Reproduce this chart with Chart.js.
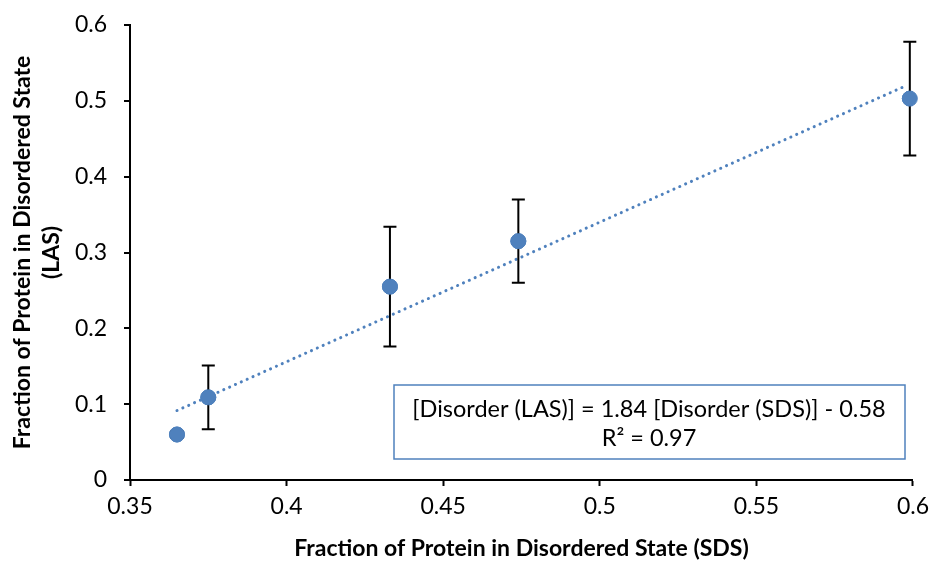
<!DOCTYPE html>
<html>
<head>
<meta charset="utf-8">
<script src="https://cdn.jsdelivr.net/npm/chart.js@4.4.1/dist/chart.umd.min.js"></script>
<style>
  html, body { margin: 0; padding: 0; background: #fff; }
  #wrap { width: 936px; height: 562px; }
</style>
</head>
<body>
<div id="wrap"><canvas id="chart" width="936" height="562"></canvas></div>
<script>
// data
const sdsFraction = [0.365, 0.375, 0.433, 0.474, 0.599];
const lasFraction = [0.060, 0.109, 0.255, 0.315, 0.503];
const lasError = [0.004, 0.042, 0.079, 0.055, 0.075];

// fitted line: LAS = 1.84 * SDS - 0.58
const fitSlope = 1.84;
const fitIntercept = -0.58;
const fitX = [0.365, 0.598];

const xTickValues = [0.35, 0.4, 0.45, 0.5, 0.55, 0.6];
const xTickLabels = ["0.35", "0.4", "0.45", "0.5", "0.55", "0.6"];
const yTickValues = [0, 0.1, 0.2, 0.3, 0.4, 0.5, 0.6];
const yTickLabels = ["0", "0.1", "0.2", "0.3", "0.4", "0.5", "0.6"];

const eqLines = ["[Disorder (LAS)] = 1.84 [Disorder (SDS)] - 0.58", "R\u00B2 = 0.97"];

const blue = "#4F81BD";
const font = "Lato, 'Open Sans', sans-serif";

const points = sdsFraction.map((x, i) => ({ x: x, y: lasFraction[i] }));
const fitLine = fitX.map(x => ({ x: x, y: fitSlope * x + fitIntercept }));

// error bars + short y tick marks, drawn from the scales
const errorBars = {
  id: "errorBars",
  afterDatasetsDraw(chart) {
    const ctx = chart.ctx;
    const xs = chart.scales.x, ys = chart.scales.y;
    ctx.save();
    ctx.strokeStyle = "#000";
    ctx.lineWidth = 2;
    ctx.beginPath();
    yTickValues.forEach(v => {
      const py = Math.round(ys.getPixelForValue(v));
      ctx.moveTo(xs.left - 6, py); ctx.lineTo(xs.left, py);
    });
    ctx.stroke();
    sdsFraction.forEach((x, i) => {
      const px = xs.getPixelForValue(x);
      const top = ys.getPixelForValue(lasFraction[i] + lasError[i]);
      const bot = ys.getPixelForValue(lasFraction[i] - lasError[i]);
      ctx.beginPath();
      ctx.moveTo(px, top); ctx.lineTo(px, bot);
      ctx.moveTo(px - 6.5, top); ctx.lineTo(px + 6.5, top);
      ctx.moveTo(px - 6.5, bot); ctx.lineTo(px + 6.5, bot);
      ctx.stroke();
    });
    ctx.restore();
    // redraw markers on top of the bars
    const meta = chart.getDatasetMeta(1);
    meta.data.forEach(el => el.draw(ctx, chart.chartArea));
  }
};

// equation box
const eqBox = {
  id: "eqBox",
  afterDraw(chart) {
    const ctx = chart.ctx;
    ctx.save();
    ctx.fillStyle = "#fff";
    ctx.fillRect(394, 385, 511, 74);
    ctx.strokeStyle = blue;
    ctx.lineWidth = 1.5;
    ctx.strokeRect(394, 385, 511, 74);
    ctx.fillStyle = "#000";
    ctx.font = "23.5px " + font;
    ctx.textAlign = "center";
    ctx.textBaseline = "middle";
    ctx.fillText(eqLines[0], 649, 409);
    ctx.fillText(eqLines[1], 649, 438);
    ctx.restore();
  }
};

new Chart(document.getElementById("chart"), {
  type: "scatter",
  data: {
    datasets: [
      {
        label: "Linear fit",
        type: "line",
        data: fitLine,
        borderColor: blue,
        borderWidth: 3,
        borderDash: [0.1, 6.3],
        borderCapStyle: "round",
        pointRadius: 0,
        fill: false,
        order: 2
      },
      {
        label: "Data",
        data: points,
        backgroundColor: blue,
        borderColor: blue,
        pointRadius: 7.5,
        pointHoverRadius: 7.5,
        order: 1
      }
    ]
  },
  options: {
    responsive: false,
    animation: false,
    events: [],
    layout: { padding: { top: 25, right: 21, left: 0, bottom: 0 } },
    plugins: {
      legend: { display: false },
      tooltip: { enabled: false }
    },
    scales: {
      x: {
        type: "linear",
        min: 0.35,
        max: 0.6,
        afterBuildTicks: s => { s.ticks = xTickValues.map(v => ({ value: v })); },
        afterFit: s => { s.height = 82; },
        grid: { drawOnChartArea: false, color: "#000", tickColor: "#000", tickLength: 6, tickWidth: 2 },
        border: { color: "#000", width: 2 },
        ticks: {
          color: "#000",
          font: { family: font, size: 23 },
          padding: 7,
          maxRotation: 0,
          callback: (v, i) => xTickLabels[i]
        },
        title: {
          display: true,
          text: "Fraction of Protein in Disordered State (SDS)",
          color: "#000",
          font: { family: font, size: 23, weight: "bold" },
          padding: { top: 4, bottom: 0 }
        }
      },
      y: {
        type: "linear",
        min: 0,
        max: 0.6,
        afterBuildTicks: s => { s.ticks = yTickValues.map(v => ({ value: v })); },
        afterFit: s => { s.width = 130; },
        grid: { drawOnChartArea: false, color: "#000", tickColor: "rgba(0,0,0,0)", tickLength: 23, tickWidth: 2 },
        border: { color: "#000", width: 2 },
        ticks: {
          color: "#000",
          font: { family: font, size: 23 },
          padding: 0,
          callback: (v, i) => yTickLabels[i]
        },
        title: {
          display: true,
          text: ["Fraction of Protein in Disordered State", "(LAS)"],
          color: "#000",
          font: { family: font, size: 23, weight: "bold", lineHeight: 1.22 },
          padding: { top: 9, bottom: 0 }
        }
      }
    }
  },
  plugins: [errorBars, eqBox]
});
</script>
</body>
</html>
